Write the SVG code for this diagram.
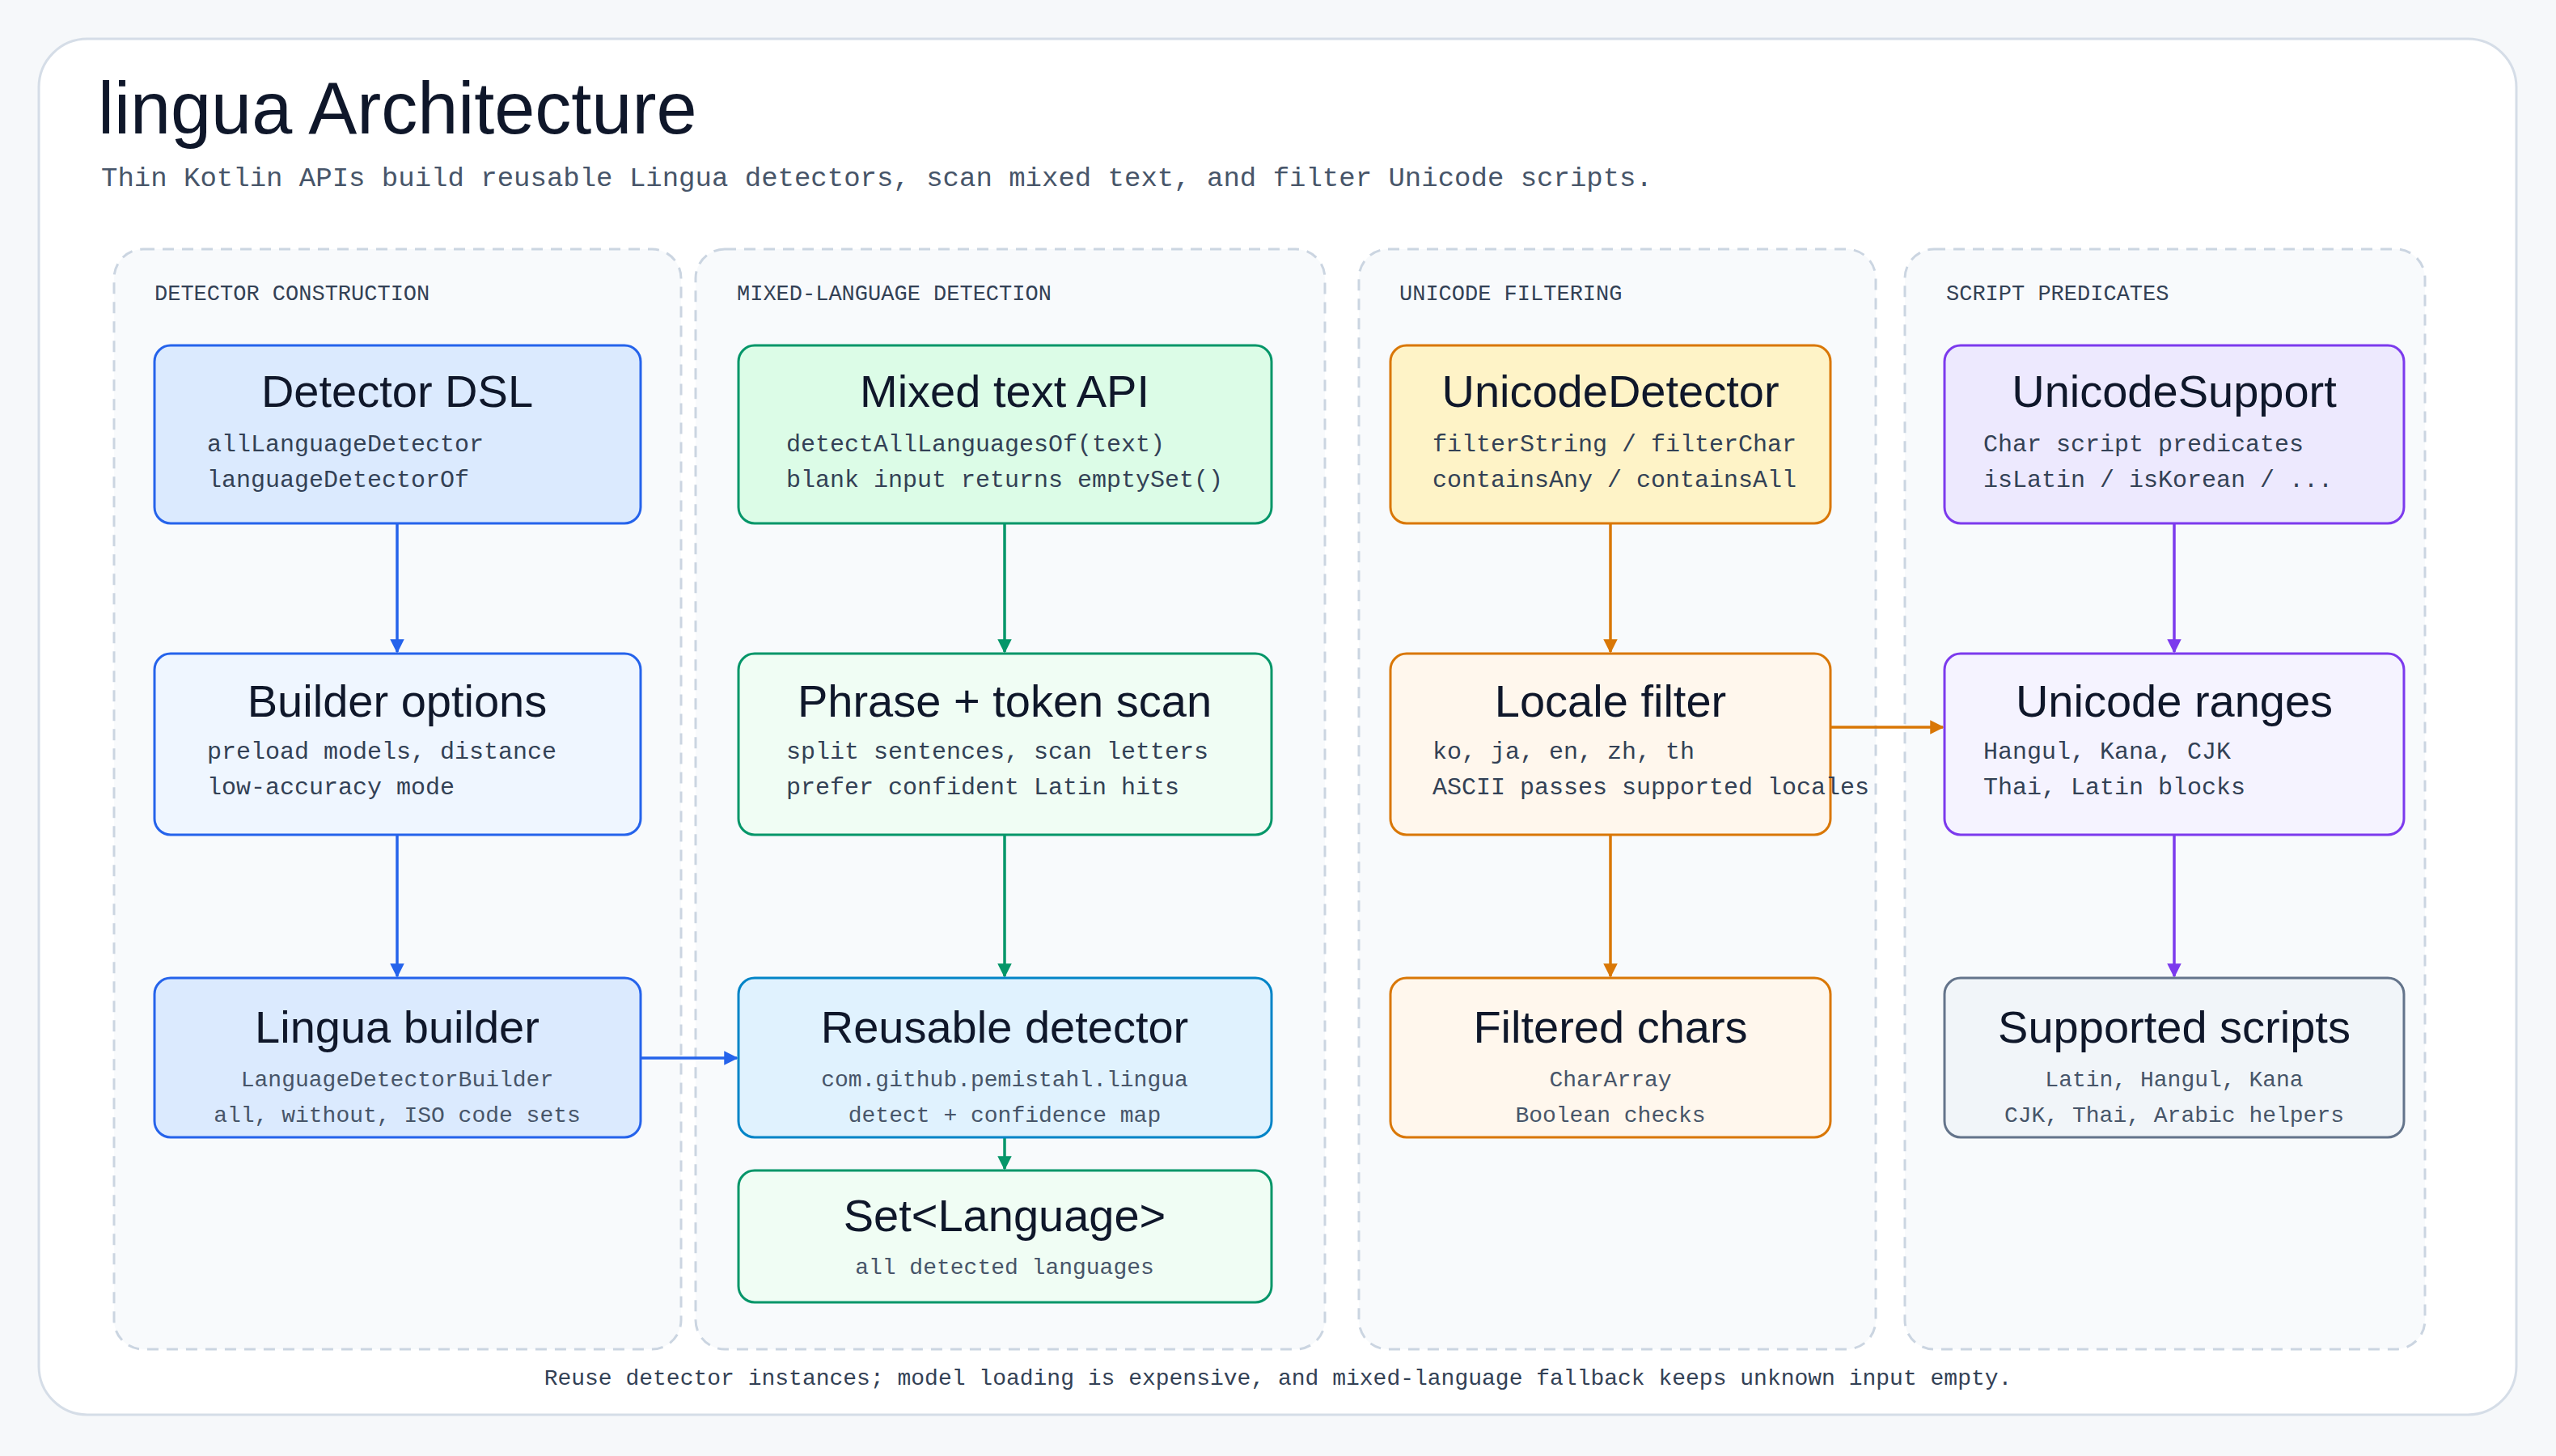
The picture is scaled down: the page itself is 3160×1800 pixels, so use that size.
<svg xmlns="http://www.w3.org/2000/svg" width="3160" height="1800" viewBox="0 0 3160 1800">
<defs>
<style>
.ttl{font-family:"Liberation Sans",Arial,sans-serif;fill:#0f172a;text-anchor:middle;font-size:56px}
.mono{font-family:"Liberation Mono","DejaVu Sans Mono",monospace;fill:#334155;font-size:30px}
.sm{font-family:"Liberation Mono","DejaVu Sans Mono",monospace;fill:#475569;font-size:28px;text-anchor:middle}
.lane{fill:#f8fafc;stroke:#cbd5e1;stroke-width:3;stroke-dasharray:14 10}
.lbl{font-family:"Liberation Mono","DejaVu Sans Mono",monospace;fill:#334155;font-size:27px}
.n{stroke-width:3}
.c{fill:none;stroke-width:3.5}
</style>
<marker id="ab" viewBox="0 0 10 10" refX="9" refY="5" markerWidth="5" markerHeight="5" orient="auto"><path d="M0,0L10,5L0,10z" fill="#2563eb"/></marker>
<marker id="ag" viewBox="0 0 10 10" refX="9" refY="5" markerWidth="5" markerHeight="5" orient="auto"><path d="M0,0L10,5L0,10z" fill="#059669"/></marker>
<marker id="ao" viewBox="0 0 10 10" refX="9" refY="5" markerWidth="5" markerHeight="5" orient="auto"><path d="M0,0L10,5L0,10z" fill="#d97706"/></marker>
<marker id="ap" viewBox="0 0 10 10" refX="9" refY="5" markerWidth="5" markerHeight="5" orient="auto"><path d="M0,0L10,5L0,10z" fill="#7c3aed"/></marker>
</defs>
<rect width="3160" height="1800" fill="#f6f8fa"/>
<rect x="48" y="48" width="3063" height="1701" rx="60" fill="#ffffff" stroke="#d5dde7" stroke-width="3"/>
<text x="121" y="165" font-family="Liberation Sans,Arial,sans-serif" font-size="90" fill="#0f172a">lingua Architecture</text>
<text x="125" y="230" font-family="Liberation Mono,monospace" font-size="34" fill="#475569">Thin Kotlin APIs build reusable Lingua detectors, scan mixed text, and filter Unicode scripts.</text>

<g id="lanes">
<rect class="lane" x="141" y="308" width="701" height="1360" rx="36"/>
<rect class="lane" x="860" y="308" width="778" height="1360" rx="36"/>
<rect class="lane" x="1680" y="308" width="639" height="1360" rx="36"/>
<rect class="lane" x="2355" y="308" width="643" height="1360" rx="36"/>
<text class="lbl" x="191" y="371">DETECTOR CONSTRUCTION</text>
<text class="lbl" x="911" y="371">MIXED-LANGUAGE DETECTION</text>
<text class="lbl" x="1730" y="371">UNICODE FILTERING</text>
<text class="lbl" x="2406" y="371">SCRIPT PREDICATES</text>
</g>

<g id="connectors">
<line class="c" stroke="#2563eb" x1="491" y1="647" x2="491" y2="806" marker-end="url(#ab)"/>
<line class="c" stroke="#2563eb" x1="491" y1="1032" x2="491" y2="1207" marker-end="url(#ab)"/>
<line class="c" stroke="#2563eb" x1="792" y1="1308" x2="911" y2="1308" marker-end="url(#ab)"/>
<line class="c" stroke="#059669" x1="1242" y1="647" x2="1242" y2="806" marker-end="url(#ag)"/>
<line class="c" stroke="#059669" x1="1242" y1="1032" x2="1242" y2="1207" marker-end="url(#ag)"/>
<line class="c" stroke="#059669" x1="1242" y1="1406" x2="1242" y2="1445" marker-end="url(#ag)"/>
<line class="c" stroke="#d97706" x1="1991" y1="647" x2="1991" y2="806" marker-end="url(#ao)"/>
<line class="c" stroke="#d97706" x1="1991" y1="1032" x2="1991" y2="1207" marker-end="url(#ao)"/>
<line class="c" stroke="#d97706" x1="2263" y1="899" x2="2402" y2="899" marker-end="url(#ao)"/>
<line class="c" stroke="#7c3aed" x1="2688" y1="647" x2="2688" y2="806" marker-end="url(#ap)"/>
<line class="c" stroke="#7c3aed" x1="2688" y1="1032" x2="2688" y2="1207" marker-end="url(#ap)"/>
</g>

<g id="dsl"><rect class="n" x="191" y="427" width="601" height="220" rx="20" fill="#dbeafe" stroke="#2563eb"/>
<text class="ttl" x="491" y="503">Detector DSL</text>
<text class="mono" x="256" y="558">allLanguageDetector</text><text class="mono" x="256" y="602">languageDetectorOf</text></g>
<g id="builder-options"><rect class="n" x="191" y="808" width="601" height="224" rx="20" fill="#eff6ff" stroke="#2563eb"/>
<text class="ttl" x="491" y="886">Builder options</text>
<text class="mono" x="256" y="938">preload models, distance</text><text class="mono" x="256" y="982">low-accuracy mode</text></g>
<g id="lingua-builder"><rect class="n" x="191" y="1209" width="601" height="197" rx="20" fill="#dbeafe" stroke="#2563eb"/>
<text class="ttl" x="491" y="1289">Lingua builder</text>
<text class="sm" x="491" y="1343">LanguageDetectorBuilder</text><text class="sm" x="491" y="1387">all, without, ISO code sets</text></g>

<g id="mixed-api"><rect class="n" x="913" y="427" width="659" height="220" rx="20" fill="#dcfce7" stroke="#059669"/>
<text class="ttl" x="1242" y="503">Mixed text API</text>
<text class="mono" x="972" y="558">detectAllLanguagesOf(text)</text><text class="mono" x="972" y="602">blank input returns emptySet()</text></g>
<g id="scan"><rect class="n" x="913" y="808" width="659" height="224" rx="20" fill="#f0fdf4" stroke="#059669"/>
<text class="ttl" x="1242" y="886">Phrase + token scan</text>
<text class="mono" x="972" y="938">split sentences, scan letters</text><text class="mono" x="972" y="982">prefer confident Latin hits</text></g>
<g id="reusable"><rect class="n" x="913" y="1209" width="659" height="197" rx="20" fill="#e0f2fe" stroke="#0284c7"/>
<text class="ttl" x="1242" y="1289">Reusable detector</text>
<text class="sm" x="1242" y="1343">com.github.pemistahl.lingua</text><text class="sm" x="1242" y="1387">detect + confidence map</text></g>
<g id="set-language"><rect class="n" x="913" y="1447" width="659" height="163" rx="20" fill="#f0fdf4" stroke="#059669"/>
<text class="ttl" x="1242" y="1522">Set&lt;Language&gt;</text>
<text class="sm" x="1242" y="1575">all detected languages</text></g>

<g id="unicode-detector"><rect class="n" x="1719" y="427" width="544" height="220" rx="20" fill="#fef3c7" stroke="#d97706"/>
<text class="ttl" x="1991" y="503">UnicodeDetector</text>
<text class="mono" x="1771" y="558">filterString / filterChar</text><text class="mono" x="1771" y="602">containsAny / containsAll</text></g>
<g id="locale-filter"><rect class="n" x="1719" y="808" width="544" height="224" rx="20" fill="#fff7ed" stroke="#d97706"/>
<text class="ttl" x="1991" y="886">Locale filter</text>
<text class="mono" x="1771" y="938">ko, ja, en, zh, th</text><text class="mono" x="1771" y="982">ASCII passes supported locales</text></g>
<g id="filtered-chars"><rect class="n" x="1719" y="1209" width="544" height="197" rx="20" fill="#fff7ed" stroke="#d97706"/>
<text class="ttl" x="1991" y="1289">Filtered chars</text>
<text class="sm" x="1991" y="1343">CharArray</text><text class="sm" x="1991" y="1387">Boolean checks</text></g>

<g id="unicode-support"><rect class="n" x="2404" y="427" width="568" height="220" rx="20" fill="#ede9fe" stroke="#7c3aed"/>
<text class="ttl" x="2688" y="503">UnicodeSupport</text>
<text class="mono" x="2452" y="558">Char script predicates</text><text class="mono" x="2452" y="602">isLatin / isKorean / ...</text></g>
<g id="unicode-ranges"><rect class="n" x="2404" y="808" width="568" height="224" rx="20" fill="#f5f3ff" stroke="#7c3aed"/>
<text class="ttl" x="2688" y="886">Unicode ranges</text>
<text class="mono" x="2452" y="938">Hangul, Kana, CJK</text><text class="mono" x="2452" y="982">Thai, Latin blocks</text></g>
<g id="supported-scripts"><rect class="n" x="2404" y="1209" width="568" height="197" rx="20" fill="#f1f5f9" stroke="#64748b"/>
<text class="ttl" x="2688" y="1289">Supported scripts</text>
<text class="sm" x="2688" y="1343">Latin, Hangul, Kana</text><text class="sm" x="2688" y="1387">CJK, Thai, Arabic helpers</text></g>

<text x="1580" y="1712" text-anchor="middle" font-family="Liberation Mono,monospace" font-size="28" fill="#334155">Reuse detector instances; model loading is expensive, and mixed-language fallback keeps unknown input empty.</text>
</svg>
